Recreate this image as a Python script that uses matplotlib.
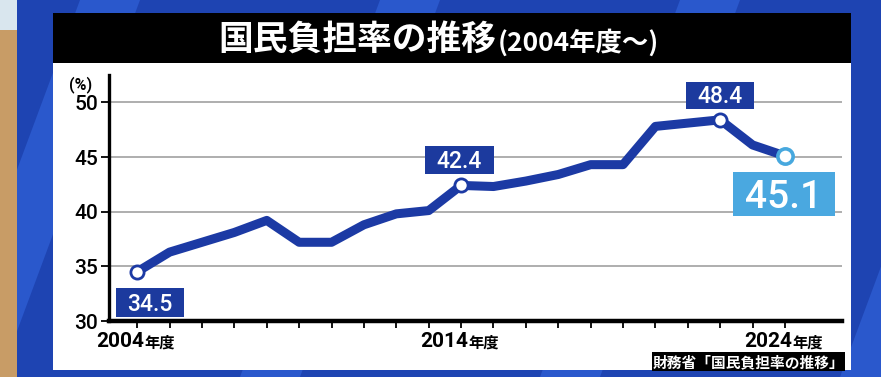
import matplotlib
matplotlib.use("Agg")
import matplotlib.pyplot as plt
from matplotlib.patches import Rectangle, Polygon

years = list(range(2004, 2025))
burden = [34.5, 36.3, 37.2, 38.1, 39.2, 37.2, 37.2, 38.8, 39.8, 40.1, 42.4,
          42.3, 42.8, 43.4, 44.3, 44.3, 47.8, 48.1, 48.4, 46.1, 45.1]
yticks = [30, 35, 40, 45, 50]
xlabel_years = [2004, 2014, 2024]
highlight_years = [2004, 2014, 2022]
final_year = 2024

title_main = "国民負担率の推移"
title_sub = "(2004年度～)"
source = "財務省「国民負担率の推移」"

W, H = 881, 377
fig = plt.figure(figsize=(W / 100, H / 100), dpi=100)
fig.patch.set_facecolor("#1e44b2")
JP = ["Noto Sans CJK JP", "DejaVu Sans"]
NUM = ["Roboto", "DejaVu Sans"]

def fx(x):
    return x / W

def fy(y):
    return 1 - y / H

def frect(x0, y0, x1, y1, color, z=0):
    fig.add_artist(Rectangle((fx(x0), fy(y1)), fx(x1) - fx(x0), fy(y0) - fy(y1),
                             transform=fig.transFigure, facecolor=color,
                             edgecolor="none", zorder=z))

def fpoly(pts, color, z=0):
    fig.add_artist(Polygon([(fx(a), fy(b)) for a, b in pts], closed=True,
                           transform=fig.transFigure, facecolor=color,
                           edgecolor="none", zorder=z))

# background stripes
for x0 in [-60, 240, 540, 840]:
    fpoly([(x0, 377), (x0 + 60, 377), (x0 + 200, 0), (x0 + 140, 0)], "#2a58cc", 0.1)
frect(0, 0, 17, 377, "#c89c66", 0.2)
frect(0, 0, 17, 30, "#d9e6ee", 0.21)
# panel
frect(53, 13, 851, 370, "white", 0.3)
frect(53, 13, 851, 63, "black", 0.4)

fig.text(fx(496), fy(40), title_main, color="white", fontsize=25, fontweight="bold",
         family=JP, ha="right", va="center", zorder=5)
fig.text(fx(498), fy(43), title_sub, color="white", fontsize=19, fontweight="bold",
         family=JP, ha="left", va="center", zorder=5)

# source box
frect(652, 352, 845, 371, "black", 0.5)
fig.text(fx(748.5), fy(362), source, color="white", fontsize=10.6, fontweight="bold",
         family=JP, ha="center", va="center", zorder=5)

# axes
ax_l, ax_r, ax_t, ax_b = 109, 842, 75, 321
ax = fig.add_axes([fx(ax_l), fy(ax_b), fx(ax_r) - fx(ax_l), fy(ax_t) - fy(ax_b)])
ax.set_zorder(2)
ax.patch.set_alpha(0)
ax.set_ylim(30, 52.5)
ax.set_xlim(2003.13, 2025.76)

for t in yticks[1:]:
    ax.axhline(t, color="#a8a8a8", lw=1.3, zorder=1)

line_c = "#1c3aa4"
ax.plot(years, burden, color=line_c, lw=6.5, solid_joinstyle="round",
        solid_capstyle="butt", zorder=3)
for yr in highlight_years:
    v = burden[years.index(yr)]
    ax.plot([yr], [v], "o", ms=9.5, mfc="white", mec=line_c, mew=2, zorder=4)
vf = burden[years.index(final_year)]
ax.plot([final_year], [vf], "o", ms=11, mfc="white", mec="#47a8de", mew=2.6, zorder=4)

for s in ["top", "right"]:
    ax.spines[s].set_visible(False)
ax.spines["left"].set_linewidth(2.4)
ax.spines["bottom"].set_linewidth(3.2)
ax.spines["left"].set_zorder(5)
ax.spines["bottom"].set_zorder(5)

ax.set_yticks(yticks)
ax.set_yticklabels([str(t) for t in yticks], fontsize=15, family=NUM,
                   fontweight="medium")
ax.tick_params(axis="y", length=6, width=1.3, pad=2, direction="out")
ax.set_xticks(years)
ax.set_xticklabels([""] * len(years))
ax.tick_params(axis="x", length=5, width=1.3, direction="out")

for yr in xlabel_years:
    ax.annotate(str(yr), (yr, 30), xytext=(-12.3, -15), textcoords="offset points",
                ha="center", va="center", fontsize=15, family=NUM,
                fontweight="bold", annotation_clip=False)
    ax.annotate("年度", (yr, 30), xytext=(16.5, -15.5), textcoords="offset points",
                ha="center", va="center", fontsize=11, family=JP, fontweight="bold",
                annotation_clip=False)

fig.text(fx(81), fy(85), "(%)", fontsize=11.5, family=NUM, fontweight="bold",
         ha="center", va="center", zorder=5)

# value label boxes positioned from the data point (offsets / sizes in pixels)
inv = fig.transFigure.inverted()

def value_box(yr, v, dx, dy, w, h, color, fs):
    px, py = ax.transData.transform((yr, v))
    cx, cy = px + dx, py - dy
    (x0, y0) = inv.transform((cx - w / 2, cy - h / 2))
    (x1, y1) = inv.transform((cx + w / 2, cy + h / 2))
    fig.add_artist(Rectangle((x0, y0), x1 - x0, y1 - y0, transform=fig.transFigure,
                             facecolor=color, edgecolor="none", zorder=6))
    cap = 0.355 * fs * 100 / 72
    (tx, ty) = inv.transform((cx, cy - cap))
    fig.text(tx, ty, f"{v:.1f}", color="white", fontsize=fs, family=NUM,
             fontweight="medium", ha="center", va="baseline", zorder=7)

box_specs = {2004: (12.7, 30.8, 68, 29), 2014: (-2, -25.7, 69, 28), 2022: (0, -24.5, 68, 27)}
for yr in highlight_years:
    dx, dy, w, h = box_specs[yr]
    value_box(yr, burden[years.index(yr)], dx, dy, w, h, "#1c3a9e", 16.5)
value_box(final_year, vf, -1, 38.3, 102, 44, "#4aa8e0", 28)

fig.savefig("out.png", dpi=100)
